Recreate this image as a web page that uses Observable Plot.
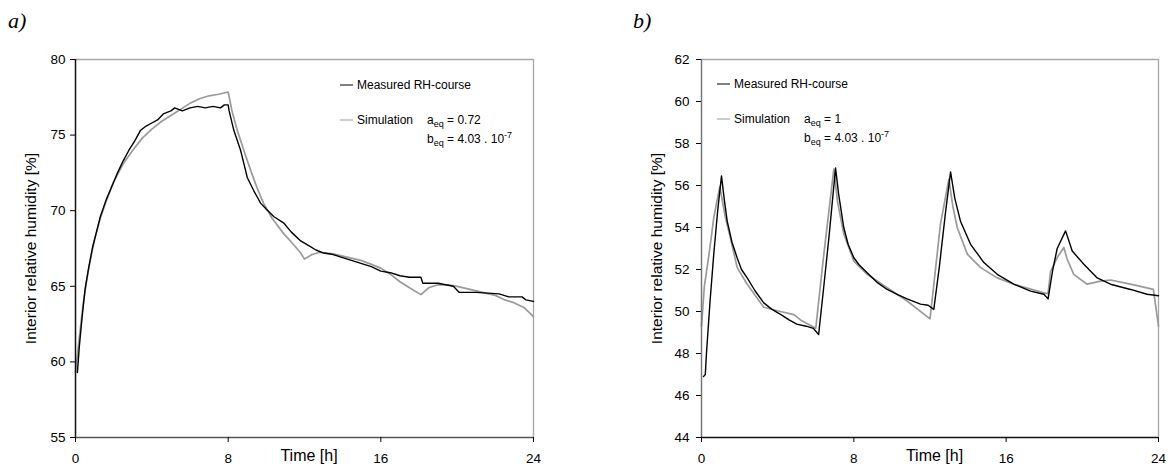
<!DOCTYPE html>
<html>
<head>
<meta charset="utf-8">
<script src="https://cdn.jsdelivr.net/npm/d3@7"></script>
<script src="https://cdn.jsdelivr.net/npm/@observablehq/plot@0.6"></script>
<style>
  html, body { margin: 0; padding: 0; background: #fff; }
  #wrap { position: relative; width: 1170px; height: 468px; overflow: hidden; font-family: "Liberation Sans", Arial, sans-serif; }
  .panel { position: absolute; top: 0; }
  .plabel { position: absolute; font-family: "Liberation Serif", "Times New Roman", serif; font-style: italic; font-size: 22px; line-height: 22px; }
  .lg { position: absolute; font-size: 12px; line-height: 14px; white-space: nowrap; transform: translateY(-50%); color: #000; }
  .sw { position: absolute; height: 0; }
  .lg sub, .lg sup { font-size: 9px; line-height: 0; }
</style>
</head>
<body>
<div id="wrap"></div>
<script>
// ---------- Panel a data ----------
const measuredA_t  = [0.1,0.2,0.35,0.5,0.7,0.9,1.1,1.3,1.6,1.9,2.2,2.5,2.8,3.1,3.4,3.7,4.0,4.3,4.6,5.0,5.2,5.6,6.0,6.4,6.8,7.2,7.6,7.8,8.0,8.05,8.3,8.65,9.0,9.35,9.7,10.0,10.4,10.9,11.3,11.8,12.2,12.6,13.0,13.5,14.0,14.5,15.0,15.5,16.0,16.5,17.0,17.5,18.1,18.2,19.0,19.8,20.1,21.0,22.2,22.7,23.4,23.6,24.0];
const measuredA_rh = [59.3,61.0,63.0,64.8,66.3,67.6,68.6,69.6,70.7,71.6,72.5,73.3,74.0,74.6,75.3,75.6,75.8,76.0,76.4,76.6,76.8,76.6,76.8,76.9,76.8,76.9,76.8,77.0,77.0,76.6,75.3,74.0,72.2,71.3,70.5,70.1,69.6,69.2,68.6,68.0,67.7,67.4,67.2,67.1,66.9,66.7,66.5,66.3,66.0,65.9,65.7,65.6,65.6,65.2,65.2,65.0,64.6,64.6,64.5,64.3,64.3,64.1,64.0];
const simA_t  = [0,0.2,0.4,0.6,0.8,1.0,1.3,1.6,2.0,2.5,3.0,3.5,4.0,4.5,5.0,5.5,6.0,6.5,7.0,7.5,8.0,8.2,8.48,8.82,9.17,9.5,9.87,10.3,10.9,11.4,11.8,12.0,12.4,12.8,13.5,14.0,15.0,16.0,16.5,17.0,17.5,18.1,18.5,19.0,19.5,20.0,21.0,22.0,22.5,23.0,23.5,24.0];
const simA_rh = [59.3,61.6,63.8,65.5,66.9,68.1,69.5,70.6,71.9,73.1,74.0,74.8,75.4,75.9,76.3,76.7,77.1,77.4,77.6,77.7,77.85,76.6,75.3,74.0,72.7,71.55,70.45,69.5,68.5,67.8,67.2,66.8,67.1,67.25,67.15,67.0,66.7,66.2,65.8,65.3,64.9,64.45,64.9,65.1,65.1,65.0,64.7,64.4,64.1,63.9,63.6,63.0];

// ---------- Panel b data ----------
const measuredB_t  = [0.1,0.2,0.26,0.45,0.65,0.85,1.05,1.2,1.35,1.6,1.87,2.1,2.4,2.8,3.27,3.7,4.15,4.6,5.0,5.5,5.87,6.15,6.4,6.7,7.04,7.2,7.47,7.7,8.0,8.3,8.7,9.2,9.75,10.3,10.8,11.5,11.9,12.2,12.5,12.8,13.08,13.3,13.6,14.13,14.83,15.53,16.4,17.28,17.98,18.2,18.45,18.68,19.12,19.47,20.08,20.78,21.48,22.53,23.4,24.0];
const measuredB_rh = [46.9,47.0,48.0,50.5,52.8,54.8,56.46,55.3,54.3,53.3,52.56,52.0,51.6,51.0,50.41,50.1,49.86,49.6,49.4,49.3,49.2,48.9,51.0,53.6,56.83,55.6,54.0,53.2,52.56,52.2,51.85,51.4,51.05,50.8,50.6,50.35,50.3,50.1,52.2,54.6,56.65,55.4,54.3,53.2,52.33,51.77,51.3,50.97,50.82,50.6,52.0,53.0,53.84,52.88,52.25,51.6,51.3,51.05,50.82,50.75];
const simB_t  = [0.0,0.15,0.39,0.65,0.96,1.15,1.25,1.52,1.87,2.4,3.27,4.15,4.85,5.2,6.0,6.42,6.95,7.15,7.47,8.0,8.7,9.75,10.8,12.0,12.55,12.99,13.2,13.43,13.96,14.66,15.53,16.4,17.98,18.2,18.33,18.7,19.03,19.2,19.55,20.25,20.96,21.48,22.53,23.73,24.0];
const simB_rh = [49.3,51.2,52.7,54.5,55.95,55.0,54.5,53.5,52.1,51.3,50.2,50.0,49.85,49.6,49.2,52.7,56.78,55.2,53.7,52.4,51.77,51.13,50.5,49.65,54.16,56.3,55.0,54.0,52.73,52.09,51.6,51.3,50.89,50.85,51.9,52.6,53.05,52.5,51.77,51.3,51.45,51.5,51.3,51.05,49.3];

// ---------- Axes / labels ----------
const xTicks = [0, 8, 16, 24];
const yTicksA = [55, 60, 65, 70, 75, 80];
const yTicksB = [44, 46, 48, 50, 52, 54, 56, 58, 60, 62];
const xLabel = "Time [h]";
const yLabel = "Interior relative humidity [%]";
const seriesNames = ["Measured RH-course", "Simulation"];
const panelNames = ["a)", "b)"];
const aeqValues = ["0.72", "1"];
const beqText = "4.03 . 10";
const beqExp = "-7";

const toRows = (ts, vs) => ts.map((t, i) => ({t, v: vs[i]}));

function makePanel(opts) {
  return Plot.plot({
    width: 585,
    height: 468,
    marginLeft: opts.ml,
    marginRight: opts.mr,
    marginTop: 59,
    marginBottom: 31,
    x: {domain: [0, 24]},
    y: {domain: opts.ydom},
    style: {fontFamily: "'Liberation Sans', Arial, sans-serif", fontSize: "13.5px", color: "#000", background: "transparent", overflow: "visible"},
    marks: [
      Plot.ruleY([opts.ydom[1]], {stroke: "#a6a6a6", strokeWidth: 1.3}),
      Plot.ruleX([24], {stroke: "#a6a6a6", strokeWidth: 1.3}),
      Plot.line(toRows(opts.simT, opts.simV), {x: "t", y: "v", stroke: "#9a9a9a", strokeWidth: 1.7}),
      Plot.line(toRows(opts.mT, opts.mV), {x: "t", y: "v", stroke: "#000", strokeWidth: 1.4}),
      Plot.ruleX([0], {stroke: opts.leftColor, strokeWidth: 1.5}),
      Plot.ruleY([opts.ydom[0]], {stroke: opts.bottomColor, strokeWidth: 1.5}),
      Plot.axisX({ticks: xTicks, tickSize: 5, tickPadding: 11, label: null, fontSize: 13.5}),
      Plot.axisY({ticks: opts.yticks, tickSize: 5, tickPadding: opts.ypad, label: null, fontSize: 13.5}),
      Plot.text([xLabel], {frameAnchor: "bottom", text: d => d, dx: 4.5, dy: 18, fontSize: 16, lineAnchor: "middle", textAnchor: "middle"}),
      Plot.text([yLabel], {frameAnchor: "left", text: d => d, rotate: -90, dx: -44, fontSize: 15.5, lineAnchor: "middle", textAnchor: "middle"})
    ]
  });
}

const wrap = document.getElementById("wrap");

const pa = makePanel({ml: 75, mr: 52, ydom: [55, 80], yticks: yTicksA, ypad: 5,
  simT: simA_t, simV: simA_rh, mT: measuredA_t, mV: measuredA_rh, leftColor: "#111", bottomColor: "#555"});
pa.classList.add("panel"); pa.style.left = "0px";
wrap.appendChild(pa);

const pb = makePanel({ml: 116, mr: 12, ydom: [44, 62], yticks: yTicksB, ypad: 7,
  simT: simB_t, simV: simB_rh, mT: measuredB_t, mV: measuredB_rh, leftColor: "#777", bottomColor: "#111"});
pb.classList.add("panel"); pb.style.left = "585px";
wrap.appendChild(pb);

function addDiv(cls, left, top, html, extra) {
  const d = document.createElement("div");
  d.className = cls;
  d.style.left = left + "px";
  d.style.top = top + "px";
  if (html != null) d.innerHTML = html;
  if (extra) Object.assign(d.style, extra);
  wrap.appendChild(d);
  return d;
}

// panel labels
addDiv("plabel", 8, 10, panelNames[0]);
addDiv("plabel", 633, 10, panelNames[1]);

function legend(xLine, yM, yS, xParam, yB, aeq) {
  addDiv("sw", xLine, yM, null, {width: "13px", borderTop: "1.6px solid #000", transform: "translateY(-50%)"});
  addDiv("lg", xLine + 17, yM, seriesNames[0]);
  addDiv("sw", xLine, yS, null, {width: "13px", borderTop: "1.6px solid #9a9a9a", transform: "translateY(-50%)"});
  addDiv("lg", xLine + 17, yS, seriesNames[1]);
  addDiv("lg", xParam, yS, "a<sub>eq</sub> = " + aeq);
  addDiv("lg", xParam, yB, "b<sub>eq</sub> = " + beqText + "<sup>" + beqExp + "</sup>");
}
legend(340, 85, 120, 427, 139, aeqValues[0]);
legend(717, 84, 119, 804, 138, aeqValues[1]);
</script>
</body>
</html>
